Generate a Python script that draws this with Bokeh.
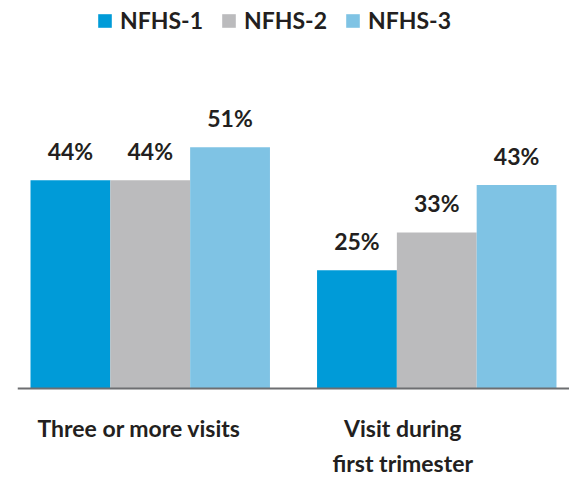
from bokeh.plotting import figure
from bokeh.models import ColumnDataSource, FactorRange, Range1d, Span
from bokeh.transform import factor_cmap
from bokeh.core.properties import value
from bokeh.embed import file_html
from bokeh.resources import INLINE

categories = ["Three or more visits", "Visit during first trimester"]
category_text = ["Three or more visits", "Visit during\nfirst trimester"]
surveys = ["NFHS-1", "NFHS-2", "NFHS-3"]
three_or_more = [44, 44, 51]
first_trimester = [25, 33, 43]
colors = ["#009bd8", "#bbbbbd", "#7fc3e4"]

FONT = "Lato"
TEXT_COLOR = "#231f20"

xs, vals, survs = [], [], []
for cat, series in zip(categories, [three_or_more, first_trimester]):
    for s, v in zip(surveys, series):
        xs.append((cat, s))
        vals.append(v)
        survs.append(s)

src = ColumnDataSource(dict(x=xs, v=vals, survey=survs, lab=[f"{v}%" for v in vals]))

x_range = FactorRange(*xs, factor_padding=0.0, group_padding=0.59,
                      range_padding=0.163, range_padding_units="absolute")

p = figure(width=569, height=477, x_range=x_range, y_range=Range1d(-18.8, 82.0),
           output_backend="svg", toolbar_location=None,
           min_border_left=17, min_border_right=0, min_border_top=0, min_border_bottom=0)
p.outline_line_color = None
p.xgrid.visible = False
p.ygrid.visible = False
p.xaxis.visible = False
p.yaxis.visible = False

p.vbar(x="x", top="v", width=1.0, source=src, line_color=None,
       fill_color=factor_cmap("x", palette=colors, factors=surveys, start=1, end=2),
       legend_group="survey")

p.add_layout(Span(location=0, dimension="width", line_color="#6d6e71", line_width=2))

p.text(x="x", y="v", text="lab", source=src, text_align="center", text_baseline="alphabetic",
       y_offset=-29, text_font=value(FONT), text_font_style="bold", text_font_size="23px",
       text_color=TEXT_COLOR)

cat_src = ColumnDataSource(dict(x=categories, t=category_text, y=[0, 0], xo=[-11, -34]))
p.text(x="x", y="y", text="t", source=cat_src, text_align="center", text_baseline="top",
       x_offset="xo", y_offset=25, text_font=value(FONT), text_font_style="bold",
       text_font_size="23px", text_color=TEXT_COLOR, text_line_height=1.28)

p.legend.orientation = "horizontal"
p.legend.location = (79, 443)
p.legend.padding = 0
p.legend.margin = 0
p.legend.spacing = 17
p.legend.glyph_width = 17
p.legend.glyph_height = 17
p.legend.label_standoff = 7
p.legend.label_text_font = FONT
p.legend.label_text_font_style = "bold"
p.legend.label_text_font_size = "23px"
p.legend.label_text_color = TEXT_COLOR
p.legend.background_fill_alpha = 0
p.legend.border_line_alpha = 0

open("out.html", "w").write(file_html(p, INLINE))
